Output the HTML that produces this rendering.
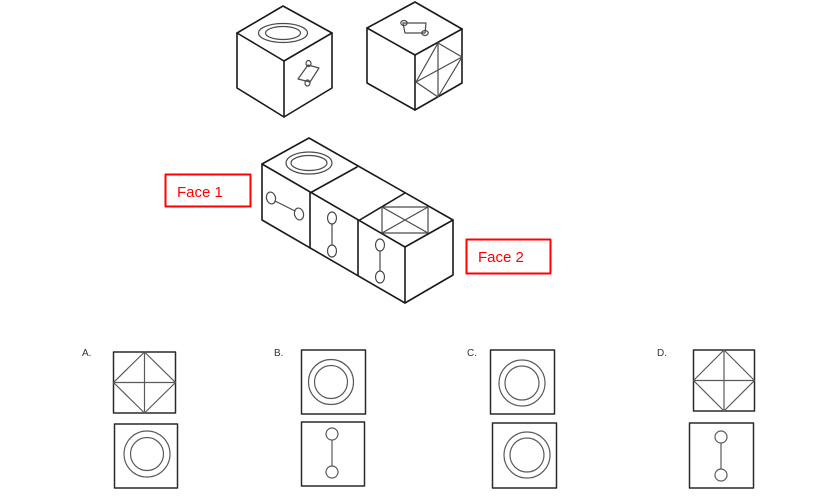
<!DOCTYPE html>
<html><head><meta charset="utf-8"><style>
html,body{margin:0;padding:0;background:#fff;}
svg{display:block;}
text{font-family:"Liberation Sans",sans-serif;}
</style></head><body>
<svg width="814" height="497" viewBox="0 0 814 497" xmlns="http://www.w3.org/2000/svg">
<g fill="none" stroke-linejoin="round" stroke-linecap="round">
<!-- Cube 1 -->
<g stroke="#1a1a1a" stroke-width="1.6">
<polygon points="283,6 332,33 332,88 284,117 237,88 237,33"/>
<polyline points="237,33 284,61 332,33"/>
<line x1="284" y1="61" x2="284" y2="117"/>
</g>
<g stroke="#4a4a4a" stroke-width="1.2">
<ellipse cx="283" cy="33" rx="24.5" ry="9.5"/>
<ellipse cx="283" cy="33" rx="17.5" ry="6.5"/>
<polygon points="308,65 319,68 310,82 298,79"/>
<ellipse cx="308.5" cy="63.5" rx="2.5" ry="3"/>
<ellipse cx="307.5" cy="83" rx="2.5" ry="3"/>
</g>
<!-- Cube 2 -->
<g stroke="#1a1a1a" stroke-width="1.6">
<polygon points="415,2 462,29 462,83 415,110 367,83 367,28"/>
<polyline points="367,28 415,55 462,29"/>
<line x1="415" y1="55" x2="415" y2="110"/>
</g>
<g stroke="#4a4a4a" stroke-width="1.2">
<polygon points="403,23 426,23 425,33 405,33"/>
<ellipse cx="404" cy="23" rx="3.2" ry="2.5"/>
<ellipse cx="425" cy="33" rx="3.2" ry="2.5"/>
<polygon points="438,43 462,57 438,97 416,82"/>
<line x1="438" y1="43" x2="438" y2="97"/>
<line x1="416" y1="82" x2="462" y2="57"/>
</g>
<!-- Prism -->
<g stroke="#1a1a1a" stroke-width="1.6">
<polygon points="309,138 453,220 453,275 405,303 262,220 262,164"/>
<polyline points="262,164 405,247 453,220"/>
<line x1="405" y1="247" x2="405" y2="303"/>
<line x1="310" y1="193" x2="310" y2="248"/>
<line x1="358" y1="221" x2="358" y2="275"/>
<line x1="310" y1="193" x2="357" y2="167"/>
<line x1="358" y1="221" x2="405" y2="193"/>
</g>
<g stroke="#4a4a4a" stroke-width="1.2">
<ellipse cx="309" cy="163" rx="23" ry="11"/>
<ellipse cx="309" cy="163" rx="18" ry="7.5"/>
<rect x="382" y="207" width="46" height="26"/>
<line x1="382" y1="207" x2="428" y2="233"/>
<line x1="428" y1="207" x2="382" y2="233"/>
<ellipse cx="271" cy="198" rx="4.5" ry="6" transform="rotate(-15 271 198)"/>
<ellipse cx="299" cy="214" rx="4.5" ry="6" transform="rotate(-15 299 214)"/>
<line x1="275" y1="201" x2="295" y2="211"/>
<ellipse cx="332" cy="218" rx="4.5" ry="6"/>
<ellipse cx="332" cy="251" rx="4.5" ry="6"/>
<line x1="332" y1="224" x2="332" y2="245"/>
<ellipse cx="380" cy="245" rx="4.5" ry="6"/>
<ellipse cx="380" cy="277" rx="4.5" ry="6"/>
<line x1="380" y1="251" x2="380" y2="271"/>
</g>
<!-- Labels -->
<rect x="165.5" y="174.5" width="85" height="32" stroke="#f00" stroke-width="2"/>
<rect x="466.5" y="239.5" width="84" height="34" stroke="#f00" stroke-width="2"/>
<!-- Options -->
<g stroke="#2a2a2a" stroke-width="1.5">
<rect x="113.5" y="352" width="62" height="61"/>
<rect x="114.5" y="424" width="63" height="64"/>
<rect x="301.5" y="350" width="64" height="64"/>
<rect x="301.5" y="422" width="63" height="64"/>
<rect x="490.5" y="350" width="64" height="64"/>
<rect x="492.5" y="423" width="64" height="65"/>
<rect x="693.5" y="350" width="61" height="61"/>
<rect x="689.5" y="423" width="64" height="65"/>
</g>
<g stroke="#5a5a5a" stroke-width="1.2">
<polygon points="144.5,352 175.5,382.5 144.5,413 113.5,382.5"/>
<line x1="144.5" y1="352" x2="144.5" y2="413"/>
<line x1="113.5" y1="382.5" x2="175.5" y2="382.5"/>
<circle cx="147" cy="454" r="23"/>
<circle cx="147" cy="454" r="16.5"/>
<circle cx="331" cy="382" r="22.5"/>
<circle cx="331" cy="382" r="16.5"/>
<circle cx="332" cy="434" r="6"/>
<circle cx="332" cy="472" r="6"/>
<line x1="332" y1="440" x2="332" y2="466"/>
<circle cx="522" cy="383" r="23"/>
<circle cx="522" cy="383" r="17"/>
<circle cx="527" cy="455" r="23"/>
<circle cx="527" cy="455" r="17"/>
<polygon points="724,350 754.5,380.5 724,411 693.5,380.5"/>
<line x1="724" y1="350" x2="724" y2="411"/>
<line x1="693.5" y1="380.5" x2="754.5" y2="380.5"/>
<circle cx="721" cy="437" r="6"/>
<circle cx="721" cy="475" r="6"/>
<line x1="721" y1="443" x2="721" y2="469"/>
</g>
</g>
<text x="177" y="197" font-size="15" fill="#f00">Face 1</text>
<text x="478" y="262" font-size="15" fill="#f00">Face 2</text>
<text x="82" y="356" font-size="10" fill="#333">A.</text>
<text x="274" y="356" font-size="10" fill="#333">B.</text>
<text x="467" y="356" font-size="10" fill="#333">C.</text>
<text x="657" y="356" font-size="10" fill="#333">D.</text>
</svg>
</body></html>
